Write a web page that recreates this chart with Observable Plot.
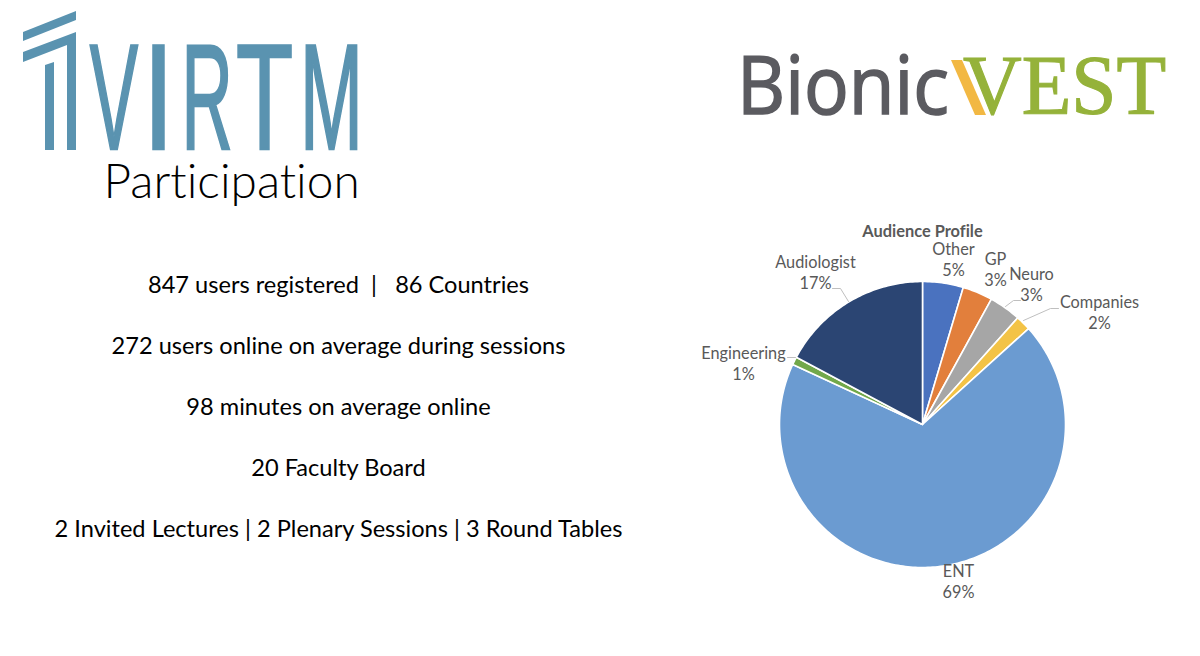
<!DOCTYPE html>
<html><head><meta charset="utf-8">
<script src="https://cdn.jsdelivr.net/npm/d3@7"></script>
<script src="https://cdn.jsdelivr.net/npm/@observablehq/plot@0.6"></script>
<style>
html,body{margin:0;padding:0;background:#fff;width:1200px;height:656px;overflow:hidden;font-family:Lato,"Open Sans",sans-serif;font-variant-ligatures:none}
#page{position:relative;width:1200px;height:656px}
.stat{position:absolute;left:0;width:677px;text-align:center;font-size:23.6px;line-height:30px;color:#000;white-space:pre}
#heading{position:absolute;left:103.5px;top:157px;font-size:47.8px;line-height:46px;font-weight:300;color:#000;white-space:nowrap}
#logos{position:absolute;left:0;top:0}
#pie{position:absolute;left:680px;top:205px}
</style></head>
<body><div id="page">
<svg id="logos" width="1200" height="200" viewBox="0 0 1200 200">
  <g fill="#5a93b0">
    <polygon points="23,32 76,11 76,20 23,41"/>
    <polygon points="23,52 76,32 76,150 67,150 67,45 23,62"/>
    <polygon points="45,65 54,62 54,150 45,150"/>
    <g font-family="'Liberation Sans',sans-serif" font-size="151" text-anchor="middle" stroke="#5a93b0" stroke-width="2.5">
      <text transform="translate(114,149) scale(0.48,1)">V</text>
      <text transform="translate(158.5,149) scale(0.75,1)">I</text>
      <text transform="translate(207,149) scale(0.47,1)">R</text>
      <text transform="translate(264.5,149) scale(0.62,1)">T</text>
      <text transform="translate(331.5,149) scale(0.5,1)">M</text>
    </g>
  </g>
  <text x="737" y="114" font-family="'Open Sans',sans-serif" font-size="80" fill="#5b5b60" stroke="#5b5b60" stroke-width="1.6" textLength="212" lengthAdjust="spacingAndGlyphs">Bionic</text>
  <polygon points="951,60 962,60 986,115 975,115" fill="#f2b843"/>
  <text x="963" y="114" font-family="'Liberation Serif',serif" font-size="84" fill="#95b23a" stroke="#95b23a" stroke-width="1.2" textLength="203" lengthAdjust="spacingAndGlyphs">VEST</text>
</svg>
<div id="heading">Participation</div>
<div class="stat" style="top:269px">847 users registered  |   86 Countries</div>
<div class="stat" style="top:330px">272 users online on average during sessions</div>
<div class="stat" style="top:391px">98 minutes on average online</div>
<div class="stat" style="top:452px">20 Faculty Board</div>
<div class="stat" style="top:513px">2 Invited Lectures | 2 Plenary Sessions | 3 Round Tables</div>
<div id="pie"></div>
</div>
<script>
// Audience profile, clockwise from 12 o'clock
const categories = ["Other","GP","Neuro","Companies","ENT","Engineering","Audiologist"];
const shares = [4.6, 3.4, 3.6, 1.7, 68.6, 0.9, 17.2];
const percentLabels = ["5%","3%","3%","2%","69%","1%","17%"];
const colors = ["#4a72bf","#e27f3c","#a6a6a6","#f3c346","#6b9bd1","#72a84a","#2b4573"];

// Layout of the pie block, in pixels
const W = 500, H = 410, CX = 242, CY = 219, R = 143;
const toU = px => px / R;
// Label centres relative to the pie centre, pixels
const labelX = [31, 73, 109, 177, 36, -179, -107];
const labelY = [-166, -156, -141, -113, 156, -62, -153];
// Leader polylines relative to the pie centre, pixels
const leaders = [
  {name:"Audiologist", xs:[-90,-82,-74], ys:[-136,-136,-123]},
  {name:"Neuro", xs:[83,91,98], ys:[-118,-124,-124]},
  {name:"Companies", xs:[101,128,136], ys:[-104,-116,-116]},
  {name:"Engineering", xs:[-135,-127], ys:[-67,-67]}
];

const total = d3.sum(shares);
let cum = 0;
const slicePts = [];
categories.forEach((c,i)=>{
  const a0 = cum/total*2*Math.PI; cum += shares[i];
  const a1 = cum/total*2*Math.PI;
  slicePts.push({c,x:0,y:0});
  const n = Math.max(2, Math.ceil((a1-a0)/(Math.PI/180)));
  d3.range(n+1).forEach(k=>{
    const a = a0+(a1-a0)*k/n;
    slicePts.push({c,x:Math.sin(a),y:Math.cos(a)});
  });
});
const labels = categories.map((c,i)=>({text:c+"\n"+percentLabels[i],x:toU(labelX[i]),y:toU(-labelY[i])}));
const leaderPts = leaders.flatMap(l=>l.xs.map((x,i)=>({name:l.name,x:toU(x),y:toU(-l.ys[i])})));

const chart = Plot.plot({
  width:W,height:H,margin:0,
  style:{background:"transparent",fontFamily:"Lato,sans-serif",fontVariantLigatures:"none"},
  x:{domain:[toU(-CX),toU(W-CX)],range:[0,W],axis:null},
  y:{domain:[toU(CY-H),toU(CY)],range:[H,0],axis:null},
  color:{domain:categories,range:colors},
  marks:[
    Plot.line(slicePts,{x:"x",y:"y",z:"c",fill:"c",stroke:"#fff",strokeWidth:1.6,curve:"linear-closed",strokeLinejoin:"round"}),
    Plot.line(leaderPts,{x:"x",y:"y",z:"name",stroke:"#bfbfbf",strokeWidth:1}),
    Plot.text(labels,{x:"x",y:"y",text:"text",fontSize:16.3,lineHeight:1.34,fill:"#595959"}),
    Plot.text(["Audience Profile"],{frameAnchor:"top",dx:-8,dy:20,fontSize:16.4,fontWeight:700,fill:"#595959"})
  ]
});
document.getElementById("pie").appendChild(chart);
</script>
</body></html>
